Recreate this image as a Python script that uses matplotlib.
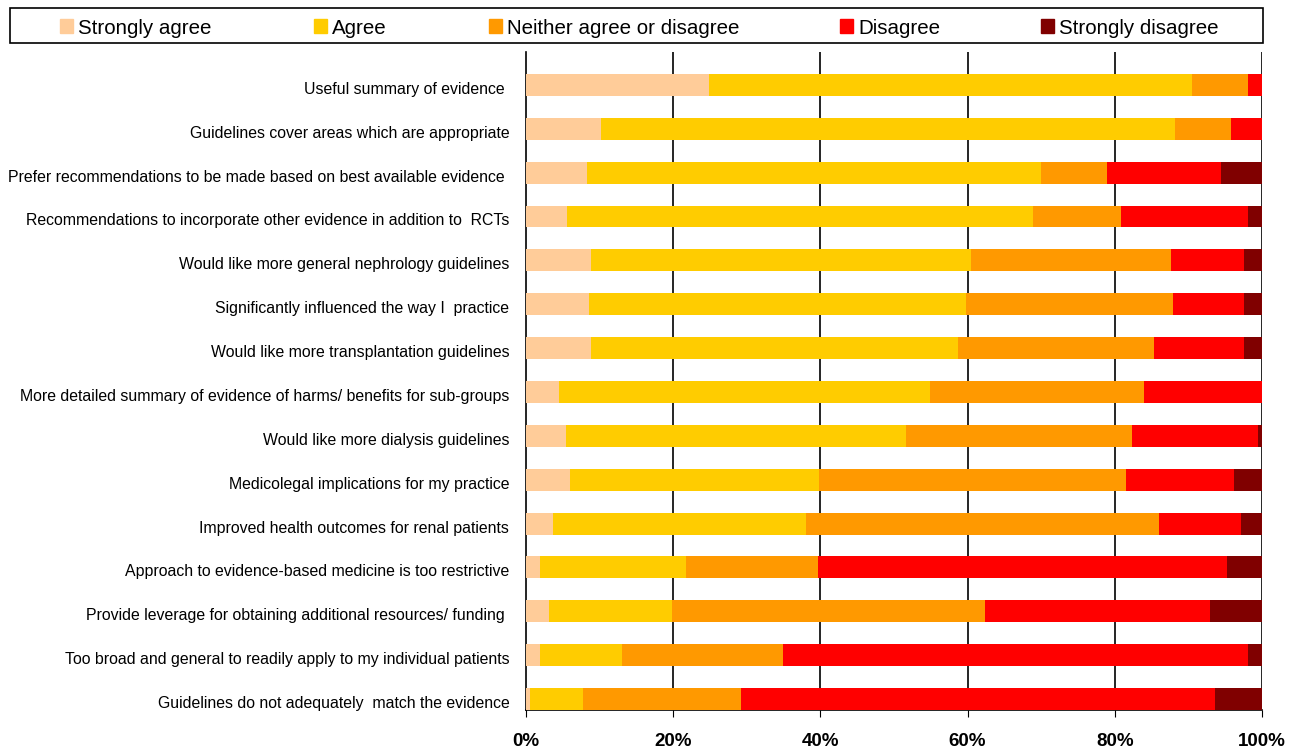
import matplotlib
matplotlib.use("Agg")
import matplotlib.pyplot as plt
from matplotlib.patches import Rectangle
from matplotlib.transforms import ScaledTranslation
import numpy as np

plt.rcParams['font.family'] = ['Liberation Sans', 'DejaVu Sans']

categories = [
    "Useful summary of evidence ",
    "Guidelines cover areas which are appropriate",
    "Prefer recommendations to be made based on best available evidence ",
    "Recommendations to incorporate other evidence in addition to  RCTs",
    "Would like more general nephrology guidelines",
    "Significantly influenced the way I  practice",
    "Would like more transplantation guidelines",
    "More detailed summary of evidence of harms/ benefits for sub-groups",
    "Would like more dialysis guidelines",
    "Medicolegal implications for my practice",
    "Improved health outcomes for renal patients",
    "Approach to evidence-based medicine is too restrictive",
    "Provide leverage for obtaining additional resources/ funding ",
    "Too broad and general to readily apply to my individual patients",
    "Guidelines do not adequately  match the evidence",
]
series_names = ["Strongly agree", "Agree", "Neither agree or disagree", "Disagree", "Strongly disagree"]
strongly_agree = [24.9, 10.2, 8.3, 5.6, 8.8, 8.6, 8.8, 4.5, 5.4, 6.0, 3.7, 1.9, 3.1, 1.9, 0.5]
agree          = [65.6, 78.0, 61.7, 63.3, 51.7, 51.2, 49.9, 50.4, 46.2, 33.8, 34.3, 19.8, 16.7, 11.1, 7.2]
neither        = [7.6, 7.6, 8.9, 11.9, 27.1, 28.1, 26.6, 29.1, 30.7, 41.7, 48.0, 18.0, 42.6, 21.9, 21.5]
disagree       = [1.9, 4.2, 15.5, 17.3, 10.0, 9.7, 12.3, 16.0, 17.2, 14.7, 11.1, 55.5, 30.5, 63.2, 64.4]
strongly_dis   = [0.0, 0.0, 5.6, 1.9, 2.4, 2.4, 2.4, 0.0, 0.5, 3.8, 2.9, 4.8, 7.1, 1.9, 6.4]
colors = ["#FFCC99", "#FFCC00", "#FF9900", "#FF0000", "#800000"]
xticks = [0, 20, 40, 60, 80, 100]
xticklabels = ["0%", "20%", "40%", "60%", "80%", "100%"]

fig = plt.figure(figsize=(13, 7.51), dpi=100)
ax = fig.add_axes([526/1300, 1-710/751, (1262-526)/1300, (710-52)/751])

data = np.array([strongly_agree, agree, neither, disagree, strongly_dis])
data = data / data.sum(axis=0) * 100
y = np.arange(len(categories))
left = np.zeros(len(categories))
for vals, c, name in zip(data, colors, series_names):
    ax.barh(y, vals, left=left, height=0.5, color=c, label=name, zorder=3, linewidth=0)
    left += vals

ax.set_xlim(0, 100)
ax.set_ylim(len(categories) - 0.75, -0.75)
ax.set_yticks(y)
ax.set_yticklabels(categories, fontsize=11.4, va='center_baseline')
ax.tick_params(axis='y', length=0, pad=12)
shift = ScaledTranslation(0, -3/100, fig.dpi_scale_trans)
for lab in ax.get_yticklabels():
    lab.set_transform(lab.get_transform() + shift)
ax.set_xticks(xticks)
ax.set_xticklabels(xticklabels, fontsize=13.5, fontweight='bold')
ax.tick_params(axis='x', length=5, direction='out', pad=11.5)
for xv in xticks[1:]:
    ax.axvline(xv, color='black', linewidth=1.2, zorder=1)
for s in ['top', 'right']:
    ax.spines[s].set_visible(False)
ax.spines['left'].set_linewidth(1.2)
ax.spines['bottom'].set_linewidth(1.2)

# legend box
fig.patches.append(Rectangle((10/1300, 1-43/751), (1263-10)/1300, 35/751,
                             transform=fig.transFigure, fill=False, edgecolor='black', linewidth=1.2))
leg_x = [60, 314, 489, 840, 1041]
for xp, c, name in zip(leg_x, colors, series_names):
    fig.patches.append(Rectangle((xp/1300, 1-33/751), 13/1300, 14/751,
                                 transform=fig.transFigure, color=c))
    fig.text((xp+18)/1300, 1-26/751, name, fontsize=14.8, va='center_baseline', ha='left')

fig.savefig("out.png", dpi=100)
